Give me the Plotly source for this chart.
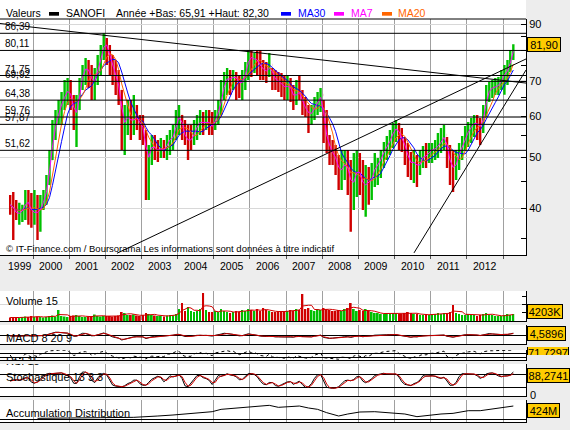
import numpy as np
import pandas as pd
import plotly.graph_objects as go

W, H = 570, 430
BG = "#EDEDED"
GREEN = "#00C000"
RED = "#D00000"
FONT = "Liberation Sans, Arial, sans-serif"

# ---------------- data (monthly, 1999-05 .. 2013-04) ----------------
month_dates = pd.date_range("1999-05-01", "2013-04-01", freq="MS") + pd.Timedelta(days=14)

high = [
    42.43, 42.99, 41.51, 40.97, 40.61, 43.37, 43.37, 42.80,                          # 1999
    43.37, 42.43, 42.43, 43.37, 46.33, 51.71, 59.01, 61.66, 64.43, 66.74, 70.35, 70.97,  # 2000
    70.35, 65.86, 65.86, 70.97, 75.15, 77.50, 76.82, 75.15, 74.17, 78.53, 82.06, 86.39,  # 2001
    84.61, 82.06, 78.53, 76.82, 73.52, 67.33, 63.03, 64.43, 64.43, 65.86, 63.03, 60.32,  # 2002
    60.32, 56.47, 52.86, 55.24, 55.24, 54.04, 54.52, 54.04, 55.24, 56.47, 57.72, 61.66,  # 2003
    63.03, 60.32, 59.01, 57.72, 57.72, 59.01, 60.32, 61.66, 61.12, 61.66, 61.66, 61.12,  # 2004
    61.66, 64.43, 70.35, 72.88, 74.17, 73.52, 73.52, 72.88, 71.92, 73.52, 76.15, 80.27,  # 2005
    80.27, 79.22, 80.27, 80.27, 76.82, 76.15, 79.22, 74.17, 73.52, 72.88, 72.56, 71.92,  # 2006
    71.92, 70.97, 68.82, 70.35, 71.92, 67.33, 65.28, 63.03, 63.03, 65.28, 66.74, 67.92,  # 2007
    64.43, 61.66, 55.24, 54.04, 52.86, 50.59, 51.71, 51.71, 51.71, 49.49, 51.04, 51.71,  # 2008
    51.04, 49.49, 48.41, 47.98, 48.84, 51.04, 49.93, 51.71, 53.56, 55.00, 56.47, 58.23,  # 2009
    59.01, 58.23, 56.97, 54.76, 53.33, 51.26, 51.71, 50.59, 51.71, 52.63, 53.33, 53.33,  # 2010
    53.33, 54.04, 55.73, 56.97, 57.72, 54.76, 52.86, 51.71, 51.71, 53.33, 55.00, 57.47,  # 2011
    58.49, 59.53, 60.32, 60.32, 59.53, 63.03, 68.82, 69.73, 70.35, 70.97, 71.29, 73.52,  # 2012
    75.15, 76.82, 80.27, 82.30,                                                      # 2013
]
low = [
    38.86, 34.81, 38.01, 37.19, 37.68, 38.01, 37.19, 36.70,
    37.19, 34.81, 36.06, 39.72, 40.61, 44.34, 49.49, 54.04, 57.72, 57.72, 61.66, 63.03,
    61.66, 56.47, 52.40, 61.66, 67.33, 68.82, 67.92, 64.43, 64.43, 68.82, 71.92, 76.82,
    75.15, 71.92, 68.82, 65.86, 63.03, 51.71, 50.59, 55.24, 54.04, 55.24, 56.47, 54.04,
    52.86, 41.51, 41.51, 48.41, 49.49, 49.05, 49.93, 49.93, 49.49, 50.59, 51.71, 54.04,
    55.24, 54.04, 52.86, 49.49, 51.71, 52.86, 54.04, 55.24, 55.24, 56.47, 55.24, 55.24,
    56.47, 57.72, 60.32, 64.43, 65.86, 65.86, 67.33, 64.43, 64.99, 64.43, 67.33, 70.35,
    71.29, 72.56, 71.92, 70.35, 70.35, 69.43, 71.29, 67.33, 67.33, 66.74, 65.28, 64.43,
    64.43, 63.86, 61.66, 63.03, 64.43, 60.32, 59.79, 55.71, 57.72, 59.01, 60.32, 61.12,
    53.33, 51.04, 48.41, 48.41, 46.33, 43.37, 43.37, 45.32, 42.43, 36.06, 39.72, 42.06,
    42.43, 39.72, 38.52, 40.61, 41.51, 43.95, 44.34, 45.72, 47.78, 49.49, 50.59, 52.17,
    53.56, 51.71, 51.26, 48.41, 45.92, 45.32, 44.73, 43.95, 46.33, 47.78, 47.78, 48.84,
    48.84, 49.49, 49.93, 51.04, 51.71, 47.78, 44.34, 42.99, 45.32, 47.36, 49.49, 51.71,
    52.40, 53.33, 54.76, 54.04, 52.86, 55.73, 59.79, 63.86, 64.99, 65.86, 65.86, 67.33,
    65.91, 68.82, 72.88, 76.82,
]
close = [
    40.61, 39.72, 38.86, 39.38, 39.72, 41.51, 40.61, 38.86,
    39.72, 38.86, 40.61, 41.51, 44.34, 49.49, 55.24, 59.01, 61.66, 64.43, 65.86, 67.92,
    64.43, 60.32, 61.66, 68.82, 73.52, 74.17, 72.88, 68.82, 70.97, 75.15, 78.53, 83.88,
    80.27, 76.82, 73.52, 70.35, 67.33, 57.72, 59.01, 60.32, 57.72, 60.32, 59.01, 57.72,
    56.47, 48.41, 51.71, 52.86, 51.71, 51.71, 52.17, 51.26, 54.04, 54.04, 55.24, 59.01,
    60.32, 56.47, 54.04, 54.04, 54.04, 56.47, 57.72, 59.01, 57.72, 59.01, 57.72, 56.97,
    60.32, 61.66, 65.86, 70.35, 70.97, 70.35, 71.92, 70.35, 68.82, 70.35, 73.52, 78.53,
    76.82, 77.50, 76.15, 74.17, 73.52, 72.88, 75.15, 70.97, 70.35, 69.73, 68.82, 67.92,
    68.82, 67.33, 64.43, 67.33, 65.86, 63.03, 61.66, 60.32, 61.12, 63.03, 64.43, 65.86,
    56.47, 54.04, 51.71, 50.59, 49.49, 46.33, 48.41, 48.41, 47.36, 43.37, 46.33, 47.36,
    46.33, 43.37, 45.32, 44.34, 46.33, 48.41, 48.41, 50.59, 51.71, 52.86, 54.52, 56.47,
    56.97, 55.24, 54.04, 51.71, 49.49, 48.41, 49.49, 47.36, 49.49, 50.59, 50.15, 51.71,
    51.71, 52.17, 52.86, 54.04, 55.24, 50.59, 48.41, 47.36, 49.49, 51.71, 52.86, 55.24,
    56.47, 57.72, 58.49, 57.72, 56.97, 61.12, 65.86, 67.92, 67.92, 68.51, 68.82, 70.97,
    72.88, 73.52, 77.84, 81.90,
]
first_open = 41.0

volume_k = [
    2100, 2400, 1800, 2100, 2400, 2700, 2400, 3000,
    2400, 2700, 2400, 2100, 2400, 3000, 3300, 2700, 6600, 3000, 2700, 2400,
    3000, 3300, 3600, 3000, 2400, 2400, 2700, 3000, 3900, 3000, 2700, 3000,
    3000, 3000, 2700, 3000, 3300, 5400, 4800, 3600, 3600, 3900, 3300, 3000,
    3600, 4800, 4200, 3600, 3300, 3000, 3000, 2700, 3300, 3600, 3300, 4200,
    7200, 10800, 6000, 8400, 6000, 5400, 6000, 7200, 16800, 6600, 5400, 5400,
    6000, 5400, 7200, 6000, 5400, 4800, 5400, 6000, 5400, 6600, 6000, 7200,
    6600, 6000, 7200, 6000, 7800, 6600, 6000, 5400, 5400, 6000, 5400, 6000,
    6000, 6600, 6000, 7200, 6600, 16200, 7200, 7800, 6600, 6000, 7200, 6600,
    7800, 7200, 6600, 6000, 6000, 6600, 6000, 7200, 7800, 10800, 7200, 6000,
    6600, 6000, 7200, 6000, 5400, 4800, 4800, 4200, 4200, 4800, 4200, 4800,
    4800, 4200, 4200, 4800, 5400, 4800, 4200, 4200, 3600, 3600, 4200, 3600,
    4200, 4200, 4800, 4200, 4800, 4200, 5400, 9600, 4800, 4200, 3600, 3600,
    4200, 3600, 3600, 3000, 3600, 4200, 4800, 3600, 3600, 3000, 3000, 3000,
    3600, 4200, 3600, 4200,
]

ad_dates = ["2000-02-15", "2000-12-15", "2001-04-15", "2001-11-15", "2002-10-15", "2003-01-15",
            "2003-06-15", "2003-11-15", "2004-04-15", "2004-08-15", "2004-12-15", "2005-03-15",
            "2005-07-15", "2005-12-15", "2006-04-15", "2006-07-15", "2006-10-15", "2007-02-15",
            "2007-05-15", "2007-08-15", "2007-11-15", "2008-02-15", "2008-06-15", "2008-09-15",
            "2009-01-15", "2009-06-15", "2009-12-15", "2010-04-15", "2010-08-15", "2010-12-15",
            "2011-04-15", "2011-08-15", "2012-01-15", "2012-05-15", "2012-10-15", "2013-02-15",
            "2013-04-15"]
ad_values = [31, 31, 40, 52, 63, 73, 105, 137, 169, 212, 243, 318, 350, 382, 414, 446, 382, 403,
             424, 361, 318, 212, 105, 169, 233, 243, 212, 169, 84, 137, 169, 190, 275, 275, 339,
             382, 424]

level_values = [86.39, 80.11, 71.75, 69.92, 64.38, 59.76, 57.87, 51.62]
trend_starts = [("1999-02-01", 90.2), ("2002-04-28", 32.82), ("2010-07-16", 32.87)]
trend_ends = [("2013-08-21", 69.4), ("2013-08-21", 77.16), ("2013-08-21", 73.5)]

year_labels = [str(y) for y in range(1999, 2013)]
year_label_dates = ["1999-08-20"] + [f"{y}-07-02" for y in range(2000, 2013)]
year_starts = [f"{y}-01-01" for y in range(2000, 2014)]
price_major = [40, 50, 60, 70, 90]
price_minor = [35, 45, 55, 65, 75, 80, 85]
X_RANGE = ["1999-02-01", "2013-08-21"]

legend_title = "Année +Bas: 65,91 +Haut: 82,30"
box_texts = {"price": "81,90", "vol": "4203K", "macd": "4,5896", "rsi": "71,7297",
             "stoch": "88,2741", "ad": "424M"}

# ---------------- derived indicators ----------------
c = pd.Series(close, index=month_dates)
h = pd.Series(high, index=month_dates)
l = pd.Series(low, index=month_dates)
o = c.shift(1)
o.iloc[0] = first_open
up = (c >= o).values

ma7 = c.rolling(2, min_periods=1).mean()
ma20 = c.rolling(5, min_periods=1).mean()
ma30 = c.rolling(7, min_periods=1).mean()

vol = pd.Series(volume_k, index=month_dates)
vol_ma = vol.rolling(4, min_periods=1).mean()

macd = c.ewm(span=2, adjust=False).mean() - c.ewm(span=5, adjust=False).mean()
macd_sig = macd.ewm(span=2, adjust=False).mean()

d = c.diff()
gain = d.clip(lower=0).ewm(alpha=1 / 4, adjust=False).mean()
loss = (-d.clip(upper=0)).ewm(alpha=1 / 4, adjust=False).mean()
rsi = 100 - 100 / (1 + gain / loss.replace(0, np.nan))
rsi = rsi.fillna(50)

hh = h.rolling(4, min_periods=1).max()
ll = l.rolling(4, min_periods=1).min()
st_raw = (c - ll) / (hh - ll) * 100
st_k = st_raw.rolling(2, min_periods=1).mean()
st_d = st_k.rolling(2, min_periods=1).mean()

# ---------------- helpers ----------------
def px(x):
    return x / W


def py(y):
    return 1 - y / H


XR = 526 / W
doms = {
    "y": [py(255), py(19)],
    "y2": [py(321), py(291)],
    "y3": [py(344), py(325)],
    "y4": [py(360), py(350)],
    "y5": [py(396), py(364)],
    "y6": [py(422), py(400)],
}

fig = go.Figure()

# main price panel
fig.add_trace(go.Ohlc(x=month_dates, open=o, high=high, low=low, close=close,
                      increasing=dict(line=dict(color=GREEN, width=2.4)),
                      decreasing=dict(line=dict(color=RED, width=2.4)),
                      tickwidth=0.05, xaxis="x", yaxis="y", hoverinfo="skip"))
for s, col in [(ma30, "#0000FF"), (ma20, "#FF6600"), (ma7, "#FF00FF")]:
    fig.add_trace(go.Scatter(x=month_dates, y=s, mode="lines", line=dict(color=col, width=1),
                             xaxis="x", yaxis="y", hoverinfo="skip"))
for v in level_values:
    fig.add_trace(go.Scatter(x=X_RANGE, y=[v, v], mode="lines", line=dict(color="black", width=1),
                             xaxis="x", yaxis="y", hoverinfo="skip"))
for (d0, p0), (d1, p1) in zip(trend_starts, trend_ends):
    fig.add_trace(go.Scatter(x=[d0, d1], y=[p0, p1], mode="lines", line=dict(color="black", width=1),
                             xaxis="x", yaxis="y", hoverinfo="skip"))

# volume
fig.add_trace(go.Bar(x=month_dates, y=volume_k, marker=dict(color=[GREEN if u else RED for u in up], line=dict(width=0)),
                     width=18 * 86400000, xaxis="x2", yaxis="y2", hoverinfo="skip"))
fig.add_trace(go.Scatter(x=month_dates, y=vol_ma, mode="lines", line=dict(color=RED, width=1),
                         xaxis="x2", yaxis="y2", hoverinfo="skip"))
# MACD
fig.add_trace(go.Scatter(x=month_dates, y=macd, mode="lines", line=dict(color="black", width=1),
                         xaxis="x3", yaxis="y3", hoverinfo="skip"))
fig.add_trace(go.Scatter(x=month_dates, y=macd_sig, mode="lines", line=dict(color=RED, width=1),
                         xaxis="x3", yaxis="y3", hoverinfo="skip"))
# RSI
fig.add_trace(go.Scatter(x=month_dates, y=rsi, mode="lines", line=dict(color="black", width=1, dash="dot"),
                         xaxis="x4", yaxis="y4", hoverinfo="skip"))
# Stochastic
fig.add_trace(go.Scatter(x=month_dates, y=st_k, mode="lines", line=dict(color="black", width=1),
                         xaxis="x5", yaxis="y5", hoverinfo="skip"))
fig.add_trace(go.Scatter(x=month_dates, y=st_d, mode="lines", line=dict(color=RED, width=1),
                         xaxis="x5", yaxis="y5", hoverinfo="skip"))
# A/D
fig.add_trace(go.Scatter(x=ad_dates, y=ad_values, mode="lines", line=dict(color="black", width=1),
                         xaxis="x6", yaxis="y6", hoverinfo="skip"))

minor_x = dict(tickvals=year_starts, showgrid=True, gridcolor="#A0A0A0", gridwidth=1, ticks="")
layout = dict(
    width=W, height=H, margin=dict(l=0, r=0, t=0, b=0),
    paper_bgcolor=BG, plot_bgcolor="white", showlegend=False,
    font=dict(family=FONT, size=11, color="black"),
    xaxis=dict(domain=[0, XR], range=X_RANGE, type="date", anchor="y", showline=True, linecolor="black",
               linewidth=1, showticklabels=False, ticks="", showgrid=False, zeroline=False,
               rangeslider=dict(visible=False),
               minor=dict(tickvals=year_starts, showgrid=True, gridcolor="#A0A0A0", gridwidth=1,
                          ticks="outside", ticklen=3, tickcolor="#555555")),
    yaxis=dict(domain=doms["y"], type="log", range=[np.log10(32.57), np.log10(92.0)], side="right",
               anchor="x", showline=True, linecolor="black", linewidth=1, tickvals=price_major,
               ticktext=[str(t) for t in price_major], ticks="inside", ticklen=5, tickcolor="black",
               showgrid=True, gridcolor="#D8D8D8", zeroline=False, tickfont=dict(size=11),
               minor=dict(tickvals=price_minor, ticks="inside", ticklen=5, tickcolor="black", showgrid=False)),
)
panel_y = {
    "y2": dict(range=[0, 18000], tickvals=[10000], showgrid=True, gridcolor="#D8D8D8", ticks="inside",
               ticklen=4, tickcolor="black",
               minor=dict(tickvals=[5000, 15000], ticks="inside", ticklen=4, tickcolor="black", showgrid=False)),
    "y3": dict(range=[-11.5, 15.5], showgrid=False, zeroline=True, zerolinecolor="black", zerolinewidth=1, ticks=""),
    "y4": dict(range=[0, 100], tickvals=[30, 70], showgrid=True, gridcolor="black", ticks="", zeroline=False),
    "y5": dict(range=[-20.1, 127.5], tickvals=[20, 80], showgrid=True, gridcolor="black", ticks="", zeroline=False),
    "y6": dict(range=[-86, 616], showgrid=False, zeroline=True, zerolinecolor="black", zerolinewidth=1, ticks=""),
}
for i in range(2, 7):
    xa, ya = f"xaxis{i}", f"yaxis{i}"
    layout[xa] = dict(domain=[0, XR], matches="x", type="date", anchor=f"y{i}", showline=True,
                      linecolor="black", linewidth=1, showticklabels=False, ticks="", showgrid=False,
                      zeroline=False, minor=minor_x)
    yd = dict(domain=doms[f"y{i}"], anchor=f"x{i}", side="right", showline=True, linecolor="black",
              linewidth=1, showticklabels=False)
    yd.update(panel_y[f"y{i}"])
    layout[ya] = yd
fig.update_layout(**layout)

# shapes: white top band, top border, legend swatches
shapes = [
    dict(type="rect", xref="paper", yref="paper", x0=0, x1=XR, y0=py(19), y1=1,
         fillcolor="white", line=dict(width=0), layer="below"),
    dict(type="line", xref="paper", yref="paper", x0=0, x1=XR, y0=py(19), y1=py(19),
         line=dict(color="black", width=1)),
]
for x0, col in [(49, "black"), (281, "#0000FF"), (334, "#FF00FF"), (382, "#FF6600")]:
    shapes.append(dict(type="rect", xref="paper", yref="paper", x0=px(x0), x1=px(x0 + 10),
                       y0=py(15.7), y1=py(12), fillcolor=col, line=dict(width=0)))
fig.update_layout(shapes=shapes)

ann = []


def text(x, y, s, size=11, color="black", xanchor="left"):
    ann.append(dict(x=px(x), y=py(y), xref="paper", yref="paper", text=s, showarrow=False,
                    xanchor=xanchor, yanchor="middle", font=dict(size=size, color=color, family=FONT)))


# legend row
text(4, 13.5, "Valeurs", 10.5)
text(64, 13.5, "SANOFI", 10.5)
text(114, 13.5, legend_title, 10.5)
text(296, 13.5, "MA30", 10.5, "#0000FF")
text(349, 13.5, "MA7", 10.5, "#FF00FF")
text(396, 13.5, "MA20", 10.5, "#FF6600")

# level labels
for v in level_values:
    ann.append(dict(x=px(3), y=np.log10(v), xref="paper", yref="y", text=f"{v:.2f}".replace(".", ","),
                    showarrow=False, xanchor="left", yanchor="bottom",
                    font=dict(size=10, family=FONT, color="black"), yshift=-1))

# copyright
text(4, 248, "© IT-Finance.com / Boursorama Les informations sont données à titre indicatif", 9.5)

# year labels
for d_, s in zip(year_label_dates, year_labels):
    ann.append(dict(x=d_, y=py(266.3), xref="x", yref="paper", text=s, showarrow=False,
                    xanchor="center", yanchor="middle", font=dict(size=10.5, family=FONT)))

# panel labels
text(4, 300.7, "Volume 15")
text(4, 337.7, "MACD 8 20 9")
text(4, 360.7, "RSI 15")
text(4, 376.7, "Stochastique 13 3 3")
text(4, 412.7, "Accumulation Distribution")
text(528, 394.5, "0")


def box(s, ycen, wid):
    ann.append(dict(x=px(527), y=py(ycen), xref="paper", yref="paper", text=s, showarrow=False,
                    xanchor="left", yanchor="middle", bgcolor="#FFCC00", bordercolor="black",
                    borderwidth=1, borderpad=0, width=wid, height=13,
                    font=dict(size=11, family=FONT, color="black")))


def cover(x0, y0, wid, hei):
    ann.append(dict(x=px(x0), y=py(y0), xref="paper", yref="paper", text=" ", showarrow=False,
                    xanchor="left", yanchor="top", bgcolor=BG, borderwidth=0, borderpad=0,
                    width=wid, height=hei, font=dict(size=2)))


box(box_texts["rsi"], 352, 40)
cover(526.8, 342.6, 44, 4)
cover(526.8, 354.6, 44, 9)
cover(0, 361.3, 60, 2.6)
box(box_texts["price"], 45, 32)
box(box_texts["vol"], 311, 34)
box(box_texts["macd"], 333.5, 37)
box(box_texts["stoch"], 375, 41)
box(box_texts["ad"], 410, 31)

fig.update_layout(annotations=ann)
fig.write_html("out.html")
